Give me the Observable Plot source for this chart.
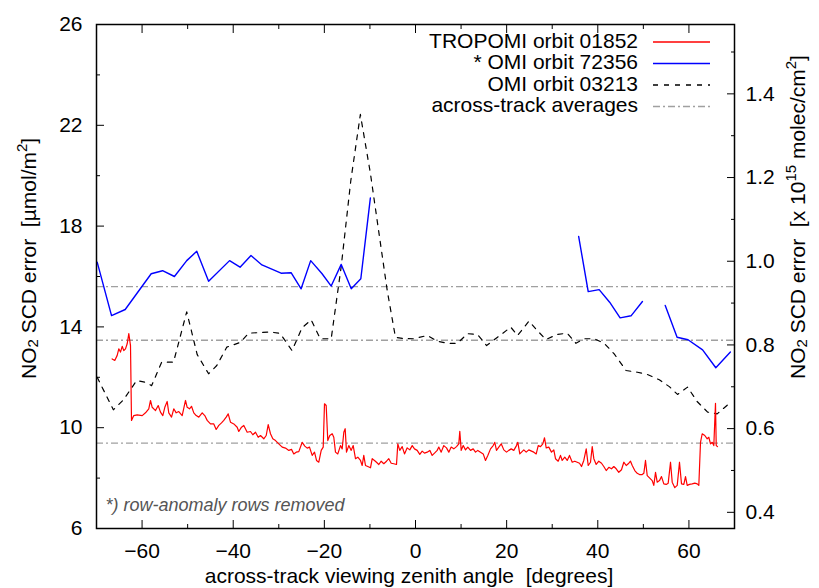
<!DOCTYPE html>
<html><head><meta charset="utf-8">
<script src="https://cdn.jsdelivr.net/npm/d3@7"></script>
<script src="https://cdn.jsdelivr.net/npm/@observablehq/plot@0.6"></script>
<style>
body{margin:0;background:#fff;}
#wrap{position:relative;width:819px;height:588px;font-family:"Liberation Sans",Arial,sans-serif;color:#000;}
#legend{position:absolute;right:0;top:0;}
.lg-row{position:absolute;height:22px;display:flex;align-items:center;font-size:21px;white-space:nowrap;}
</style></head><body><div id="wrap"></div>
<script>
// ---- data (NO2 SCD error in umol/m2 vs across-track viewing zenith angle) ----
const tropomi = [[-66.56,12.73],[-65.99,12.67],[-65.46,12.87],[-65.11,13.13],[-64.74,13.00],[-64.36,13.23],[-64.01,13.06],[-63.64,13.13],[-63.27,13.33],[-62.91,13.73],[-62.54,13.26],[-62.32,10.29],[-61.82,10.48],[-61.07,10.51],[-59.97,10.48],[-59.25,10.59],[-58.53,10.75],[-58.15,11.08],[-57.78,10.81],[-57.05,10.68],[-56.46,10.88],[-55.96,10.62],[-55.45,10.48],[-55.01,10.81],[-54.49,11.04],[-54.14,10.59],[-53.54,10.42],[-53.04,10.75],[-52.51,10.59],[-51.94,10.64],[-51.20,10.48],[-50.47,11.08],[-50.10,10.81],[-49.59,10.75],[-49.15,10.85],[-48.65,10.59],[-48.12,10.48],[-47.55,10.42],[-46.81,10.59],[-46.24,10.48],[-45.71,10.29],[-44.99,10.15],[-44.26,10.15],[-43.74,9.93],[-43.16,10.09],[-42.57,10.19],[-42.07,10.29],[-41.54,10.42],[-41.10,10.55],[-40.60,10.22],[-39.87,10.15],[-39.13,10.02],[-38.78,9.85],[-38.18,10.02],[-37.68,10.09],[-36.93,9.82],[-36.21,9.85],[-35.70,9.72],[-35.11,9.82],[-34.52,9.62],[-34.01,9.69],[-33.29,9.56],[-32.76,9.69],[-32.32,10.12],[-31.82,9.76],[-31.31,9.56],[-30.72,9.49],[-30.00,9.36],[-29.25,9.23],[-28.53,9.19],[-27.80,9.10],[-27.21,9.14],[-26.71,8.96],[-26.18,9.03],[-25.61,9.05],[-24.86,9.42],[-24.29,9.27],[-23.77,9.19],[-23.26,9.23],[-22.67,8.90],[-22.16,9.03],[-21.72,8.70],[-21.22,8.63],[-20.69,9.10],[-20.25,9.23],[-19.97,10.95],[-19.60,10.88],[-19.25,9.49],[-18.81,9.69],[-18.28,9.76],[-17.93,9.62],[-17.56,9.03],[-17.05,8.96],[-16.46,9.29],[-16.09,9.16],[-15.73,9.82],[-15.43,9.96],[-15.14,9.03],[-14.64,9.29],[-14.11,9.10],[-13.67,9.29],[-13.17,8.77],[-12.66,8.83],[-12.07,8.70],[-11.70,8.50],[-11.35,8.90],[-10.97,8.50],[-10.47,8.46],[-9.88,8.41],[-9.50,8.77],[-9.00,8.70],[-8.56,8.63],[-8.05,8.54],[-7.53,8.67],[-6.96,8.57],[-6.36,8.67],[-5.86,8.77],[-5.33,8.59],[-4.76,8.57],[-4.17,8.54],[-3.88,9.36],[-3.45,9.10],[-2.92,9.25],[-2.41,8.96],[-1.82,9.20],[-1.25,9.12],[-0.72,9.29],[-0.22,9.16],[0.37,9.10],[0.94,8.94],[1.47,9.07],[1.97,8.99],[2.57,9.03],[3.14,9.10],[3.66,8.90],[4.17,8.99],[4.76,9.10],[5.11,9.23],[5.64,9.03],[6.21,9.29],[6.80,9.20],[7.31,9.03],[7.83,9.23],[8.40,9.16],[9.00,9.25],[9.50,9.36],[9.72,9.86],[10.03,9.10],[10.47,9.29],[10.97,9.12],[11.48,9.23],[12.07,9.10],[12.66,9.16],[13.17,9.03],[13.67,9.10],[14.26,9.03],[14.86,8.96],[15.36,8.70],[15.87,8.90],[16.46,9.16],[17.05,9.29],[17.40,9.42],[17.77,9.10],[18.28,9.23],[18.81,9.36],[19.38,9.12],[19.97,9.03],[20.47,9.10],[21.00,9.16],[21.57,9.10],[22.16,9.29],[22.45,9.42],[22.89,8.96],[23.77,9.12],[24.29,9.03],[24.86,9.12],[25.46,9.07],[25.96,9.03],[26.49,8.96],[26.93,9.29],[27.43,9.25],[27.94,9.36],[28.31,9.60],[28.68,9.20],[29.25,9.23],[29.84,9.03],[30.35,9.12],[30.72,8.77],[31.31,8.67],[31.82,8.90],[32.19,8.70],[32.76,8.83],[33.29,8.70],[33.79,8.90],[34.39,8.63],[34.96,8.67],[35.48,8.63],[35.99,8.59],[36.43,8.46],[36.93,8.70],[37.46,9.16],[37.90,8.50],[38.40,8.63],[38.78,9.25],[39.13,8.77],[39.65,8.54],[40.22,8.67],[40.82,8.59],[41.32,8.46],[41.85,8.30],[42.42,8.43],[43.01,8.37],[43.52,8.46],[44.04,8.37],[44.61,8.23],[45.20,8.33],[45.71,8.63],[46.24,8.50],[46.81,8.59],[47.18,8.67],[47.56,8.50],[48.12,8.30],[48.65,8.19],[49.15,8.14],[49.75,8.14],[50.10,8.19],[50.47,8.70],[50.85,8.10],[51.35,8.01],[51.94,7.90],[52.29,7.71],[52.67,8.23],[53.04,7.84],[53.54,7.90],[53.98,8.06],[54.49,7.77],[55.01,7.75],[55.45,7.80],[55.96,8.63],[56.33,7.84],[56.90,7.62],[57.43,7.71],[57.93,8.63],[58.37,7.77],[58.88,7.75],[59.25,8.06],[59.62,7.71],[60.13,7.75],[60.72,7.77],[61.29,7.80],[61.82,7.77],[62.17,7.71],[62.54,9.42],[62.91,9.76],[63.48,9.69],[64.01,9.56],[64.36,9.62],[64.74,9.36],[65.11,9.42],[65.46,9.29],[65.83,10.97],[65.99,9.29],[66.27,9.25]];

// OMI orbit 72356 (row-anomaly rows removed -> gaps marked with NaN)
const omi72356 = [[-69.85,16.57],[-66.7,14.45],[-63.7,14.69],[-58.0,16.11],[-55.5,16.23],[-52.9,16.0],[-50.2,16.63],[-48.0,17.0],[-45.4,15.81],[-40.8,16.63],[-38.5,16.37],[-36.1,16.83],[-33.7,16.46],[-29.5,16.13],[-27.3,16.15],[-25.1,15.51],[-23.0,16.63],[-20.5,16.11],[-18.5,15.62],[-16.3,16.48],[-14.1,15.51],[-12.0,15.91],[-9.9,19.12],[NaN,NaN],[35.8,17.59],[37.9,15.40],[40.3,15.48],[42.6,14.98],[44.9,14.36],[47.3,14.44],[49.8,15.01],[NaN,NaN],[54.8,14.85],[57.4,13.59],[59.8,13.49],[63.0,13.09],[65.9,12.38],[69.1,13.0]];

// OMI orbit 03213
const omi03213 = [[-69.85,12.0],[-66.3,10.71],[-64.1,11.1],[-61.2,11.87],[-59.3,11.8],[-57.9,11.67],[-55.7,12.6],[-53.1,12.6],[-50.2,14.6],[-47.9,12.9],[-45.4,12.14],[-43.6,12.47],[-41.4,13.2],[-38.5,13.38],[-36.6,13.75],[-31.9,13.8],[-29.7,13.74],[-27.1,13.06],[-24.9,13.96],[-22.9,14.28],[-20.9,13.53],[-18.5,13.53],[-16.3,16.4],[-14.2,19.8],[-12.1,22.43],[-9.9,20.1],[-8.0,17.7],[-6.2,15.44],[-4.4,13.59],[-2.8,13.54],[-0.4,13.53],[2.6,13.66],[4.8,13.43],[7.0,13.35],[9.2,13.35],[11.4,13.73],[13.6,13.70],[15.6,13.26],[18.0,13.59],[20.9,13.99],[22.4,13.66],[24.9,14.23],[26.7,13.86],[28.6,13.5],[31.1,13.70],[33.3,13.75],[35.2,13.35],[37.0,13.53],[39.2,13.53],[41.4,13.35],[43.6,12.93],[46.2,12.27],[48.7,12.2],[50.9,12.11],[53.5,11.9],[55.7,11.63],[57.5,11.32],[59.7,11.61],[61.8,11.04],[64.1,10.62],[66.2,10.55],[68.7,10.94]];

const averages = [15.6, 13.47, 9.39];

const xMajorTicks = [-60, -40, -20, 0, 20, 40, 60];
const xMinorTicks = [-70, -50, -30, -10, 10, 30, 50, 70];
const yMajorTicks = [6, 10, 14, 18, 22, 26];
const yMinorTicks = [8, 12, 16, 20, 24];
const y2MajorTicks = [0.4, 0.6, 0.8, 1.0, 1.2, 1.4];
const y2MinorTicks = [0.5, 0.7, 0.9, 1.1, 1.3, 1.5];
const toMolec = 0.06022; // 1 umol/m2 = 0.06022 x 10^15 molec/cm2

const legendItems = [
  {label: "TROPOMI orbit 01852", stroke: "#ff0000", dash: ""},
  {label: "* OMI orbit 72356", stroke: "#0000ff", dash: ""},
  {label: "OMI orbit 03213", stroke: "#000000", dash: "5,6"},
  {label: "across-track averages", stroke: "#a0a0a0", dash: "7,3,2,3"}
];

const W = 819, H = 588;
const blank = () => "";
const plot = Plot.plot({
  width: W, height: H,
  marginLeft: 96, marginRight: 85, marginTop: 24, marginBottom: 60,
  style: {fontFamily: '"Liberation Sans", Arial, sans-serif', fontSize: "21px", color: "#000", background: "#fff", overflow: "visible"},
  x: {domain: [-70, 70], label: null},
  y: {domain: [6, 26], label: null},
  marks: [
    Plot.ruleY(averages, {stroke: "#a0a0a0", strokeWidth: 1.3, strokeDasharray: "7,3,2,3"}),
    Plot.line(omi03213, {x: d => d[0], y: d => d[1], stroke: "#000", strokeWidth: 1.2, strokeDasharray: "5,6", clip: true}),
    Plot.line(omi72356, {x: d => d[0], y: d => d[1], stroke: "#0000ff", strokeWidth: 1.4, clip: true}),
    Plot.line(tropomi, {x: d => d[0], y: d => d[1], stroke: "#ff0000", strokeWidth: 1.2, clip: true}),
    Plot.frame({stroke: "#000", strokeWidth: 1.5}),
    Plot.axisX(xMajorTicks, {anchor: "bottom", tickSize: -8, tickPadding: 23, fontSize: 21}),
    Plot.axisX(xMinorTicks, {anchor: "bottom", tickSize: -4, tickFormat: blank}),
    Plot.axisX(xMajorTicks, {anchor: "top", tickSize: -8, tickFormat: blank}),
    Plot.axisX(xMinorTicks, {anchor: "top", tickSize: -4, tickFormat: blank}),
    Plot.axisY(yMajorTicks, {anchor: "left", tickSize: -8, tickPadding: 22, fontSize: 21}),
    Plot.axisY(yMinorTicks, {anchor: "left", tickSize: -4, tickFormat: blank}),
    Plot.axisY(y2MajorTicks.map(v => v / toMolec), {anchor: "right", tickSize: -8, tickPadding: 19, fontSize: 21, tickFormat: d => (d * toMolec).toFixed(1)}),
    Plot.axisY(y2MinorTicks.map(v => v / toMolec), {anchor: "right", tickSize: -4, tickFormat: blank}),
    Plot.text(["*) row-anomaly rows removed"], {frameAnchor: "bottom-left", dx: 9, dy: -18, text: d => d, fontSize: 18, fontStyle: "italic", fill: "#555", textAnchor: "start"})
  ]
});

const wrap = document.getElementById("wrap");
wrap.appendChild(plot);

// axis titles with sub/superscripts
const svg = d3.select(plot);
function addLabel(x, y, rot, anchor, parts) {
  const t = svg.append("text")
    .attr("transform", `translate(${x},${y}) rotate(${rot})`)
    .attr("text-anchor", anchor)
    .attr("dominant-baseline", "middle")
    .style("white-space", "pre")
    .attr("font-size", 21)
    .attr("fill", "#000");
  for (const p of parts) {
    const s = t.append("tspan").text(p.t);
    if (p.sub) s.attr("font-size", 15).attr("baseline-shift", "-25%");
    if (p.sup) s.attr("font-size", 15).attr("baseline-shift", "45%");
  }
  return t;
}
addLabel(30, 379, -90, "start", [{t: "NO"}, {t: "2", sub: true}, {t: " SCD error  [µmol/m"}, {t: "2", sup: true}, {t: "]"}]);
addLabel(799, 379, -90, "start", [{t: "NO"}, {t: "2", sub: true}, {t: " SCD error  [x 10"}, {t: "15", sup: true}, {t: " molec/cm"}, {t: "2", sup: true}, {t: "]"}]);
addLabel(409, 577, 0, "middle", [{t: "across-track viewing zenith angle  [degrees]"}]);

// legend
const rowsY = [42, 63.5, 85, 106.5];
legendItems.forEach((it, i) => {
  const g = svg.append("g");
  g.append("text").attr("x", 638).attr("y", rowsY[i]).attr("text-anchor", "end")
    .attr("dominant-baseline", "middle").attr("font-size", 21).attr("fill", "#000").text(it.label);
  g.append("line").attr("x1", 653).attr("x2", 710).attr("y1", rowsY[i]).attr("y2", rowsY[i])
    .attr("stroke", it.stroke).attr("stroke-width", 1.3).attr("stroke-dasharray", it.dash || null);
});
</script>
</body></html>
